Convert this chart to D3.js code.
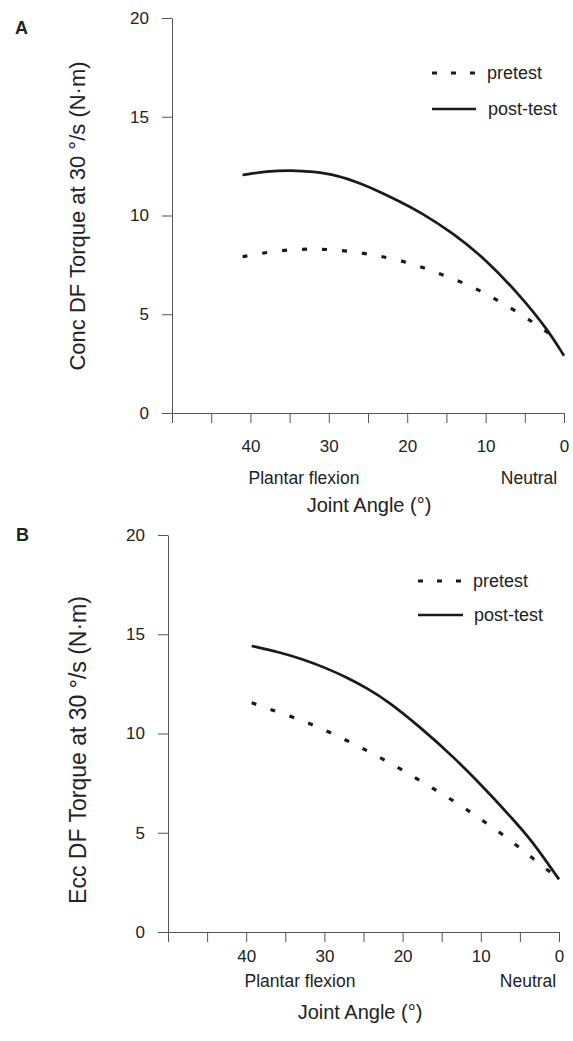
<!DOCTYPE html>
<html>
<head>
<meta charset="utf-8">
<script src="https://cdn.jsdelivr.net/npm/d3@7"></script>
<style>
  html, body { margin: 0; padding: 0; background: #fff; }
  svg { display: block; }
  text { font-family: "Liberation Sans", Arial, Helvetica, sans-serif; fill: #222; }
</style>
</head>
<body>
<svg id="chart" width="573" height="1041"></svg>
<script>
// ---------- DATA ----------
const angleTicks = [50, 45, 40, 35, 30, 25, 20, 15, 10, 5, 0];
const angleTickLabels = [40, 30, 20, 10, 0];
const torqueTicks = [0, 5, 10, 15, 20];
const seriesNames = ["pretest", "post-test"];

// Panel A: concentric DF torque
const concPreAngle  = [41, 38.6, 36, 33.5, 31, 28.6, 26, 23.7, 21.1, 18.6, 16.2, 13.7, 11.1, 8.8, 6.3, 3.9, 2];
const concPreTorque = [7.91, 8.09, 8.23, 8.30, 8.30, 8.24, 8.12, 7.96, 7.75, 7.45, 7.11, 6.73, 6.28, 5.78, 5.20, 4.58, 4.05];
const concPostAngle  = [41, 38, 34.7, 32, 29, 26, 23.5, 21, 18.4, 14.1, 9.9, 5.6, 2.2, 0];
const concPostTorque = [12.05, 12.24, 12.30, 12.22, 12.05, 11.63, 11.20, 10.72, 10.19, 9.10, 7.75, 5.95, 4.29, 2.9];

// Panel B: eccentric DF torque
const eccPreAngle  = [39.3, 37, 34.4, 31.9, 29.5, 27.1, 24.7, 22.3, 19.8, 17.4, 14.9, 12.4, 10, 7.5, 5.1, 2.65, 0];
const eccPreTorque = [11.55, 11.22, 10.88, 10.51, 10.09, 9.64, 9.17, 8.66, 8.11, 7.54, 6.95, 6.33, 5.68, 5.00, 4.27, 3.49, 2.67];
const eccPostAngle  = [39.3, 36, 32.7, 29.8, 27.1, 24.5, 22, 17.8, 13.5, 9.25, 5.85, 3.5, 0];
const eccPostTorque = [14.41, 14.12, 13.74, 13.30, 12.82, 12.27, 11.66, 10.34, 8.83, 7.13, 5.66, 4.62, 2.65];

// ---------- LAYOUT ----------
const panels = [
  {
    letter: "A", letterPos: [15, 34],
    yLabel: "Conc DF Torque at 30 °/s (N·m)", yLabelPos: [85, 216], yLabelSize: 22,
    xRange: [172, 564], yRange: [413, 18], xTickPad: 17,
    pre: [concPreAngle, concPreTorque], post: [concPostAngle, concPostTorque],
    legend: { x1: 432, x2: 476, textX: 487, yPre: 73, yPost: 109 },
    plantar: [304, 484], neutral: [529, 484], xTitle: [369, 512]
  },
  {
    letter: "B", letterPos: [16, 541],
    yLabel: "Ecc DF Torque at 30 °/s (N·m)", yLabelPos: [86, 750], yLabelSize: 23,
    xRange: [168, 559], yRange: [932, 535], xTickPad: 8,
    pre: [eccPreAngle, eccPreTorque], post: [eccPostAngle, eccPostTorque],
    legend: { x1: 418, x2: 463, textX: 473, yPre: 581, yPost: 615 },
    plantar: [300, 987], neutral: [528, 987], xTitle: [360, 1019]
  }
];

const svg = d3.select("#chart");
const ink = "#1a1a1a";

panels.forEach(p => {
  const x = d3.scaleLinear().domain([50, 0]).range(p.xRange);
  const y = d3.scaleLinear().domain([0, 20]).range(p.yRange);
  const g = svg.append("g");

  // Y axis
  const yAxis = d3.axisLeft(y).tickValues(torqueTicks).tickSize(10).tickSizeOuter(0).tickPadding(13);
  const gy = g.append("g").attr("transform", `translate(${p.xRange[0]},0)`).call(yAxis);
  gy.selectAll("text").style("font-size", "17px").attr("fill", "#222");

  // X axis
  const xAxis = d3.axisBottom(x).tickValues(angleTicks).tickSize(10).tickSizeOuter(0)
    .tickPadding(p.xTickPad)
    .tickFormat(d => angleTickLabels.includes(d) ? String(d) : "");
  const gx = g.append("g").attr("transform", `translate(0,${p.yRange[0]})`).call(xAxis);
  gx.selectAll("text").style("font-size", "17px").attr("fill", "#222");

  [gx, gy].forEach(a => {
    a.select(".domain").attr("stroke", "#555").attr("stroke-width", 1);
    a.selectAll(".tick line").attr("stroke", "#555").attr("stroke-width", 1);
  });

  // Lines
  const line = d3.line().x(d => x(d[0])).y(d => y(d[1])).curve(d3.curveBasis);
  const preData = p.pre[0].map((a, i) => [a, p.pre[1][i]]);
  const postData = p.post[0].map((a, i) => [a, p.post[1][i]]);

  g.append("path").datum(postData).attr("d", line)
    .attr("fill", "none").attr("stroke", ink).attr("stroke-width", 2.7);
  g.append("path").datum(preData).attr("d", line)
    .attr("fill", "none").attr("stroke", ink).attr("stroke-width", 3.2)
    .attr("stroke-dasharray", "5,15");

  // Legend
  const L = p.legend;
  g.append("line").attr("x1", L.x1).attr("x2", L.x2).attr("y1", L.yPre).attr("y2", L.yPre)
    .attr("stroke", ink).attr("stroke-width", 3.2).attr("stroke-dasharray", "5,14");
  g.append("line").attr("x1", L.x1).attr("x2", L.x2).attr("y1", L.yPost).attr("y2", L.yPost)
    .attr("stroke", ink).attr("stroke-width", 2.7);
  g.append("text").attr("x", L.textX).attr("y", L.yPre + 6).style("font-size", "18px").text(seriesNames[0]);
  g.append("text").attr("x", L.textX + 1).attr("y", L.yPost + 6).style("font-size", "18px").text(seriesNames[1]);

  // Panel letter
  g.append("text").attr("x", p.letterPos[0]).attr("y", p.letterPos[1])
    .style("font-size", "18px").style("font-weight", "bold").text(p.letter);

  // Y label
  g.append("text")
    .attr("transform", `translate(${p.yLabelPos[0]},${p.yLabelPos[1]}) rotate(-90)`)
    .attr("text-anchor", "middle").style("font-size", p.yLabelSize + "px").text(p.yLabel);

  // X sublabels & title
  g.append("text").attr("x", p.plantar[0]).attr("y", p.plantar[1]).attr("text-anchor", "middle")
    .style("font-size", "17.5px").text("Plantar flexion");
  g.append("text").attr("x", p.neutral[0]).attr("y", p.neutral[1]).attr("text-anchor", "middle")
    .style("font-size", "17.5px").text("Neutral");
  g.append("text").attr("x", p.xTitle[0]).attr("y", p.xTitle[1]).attr("text-anchor", "middle")
    .style("font-size", "20px").text("Joint Angle (°)");
});
</script>
</body>
</html>
